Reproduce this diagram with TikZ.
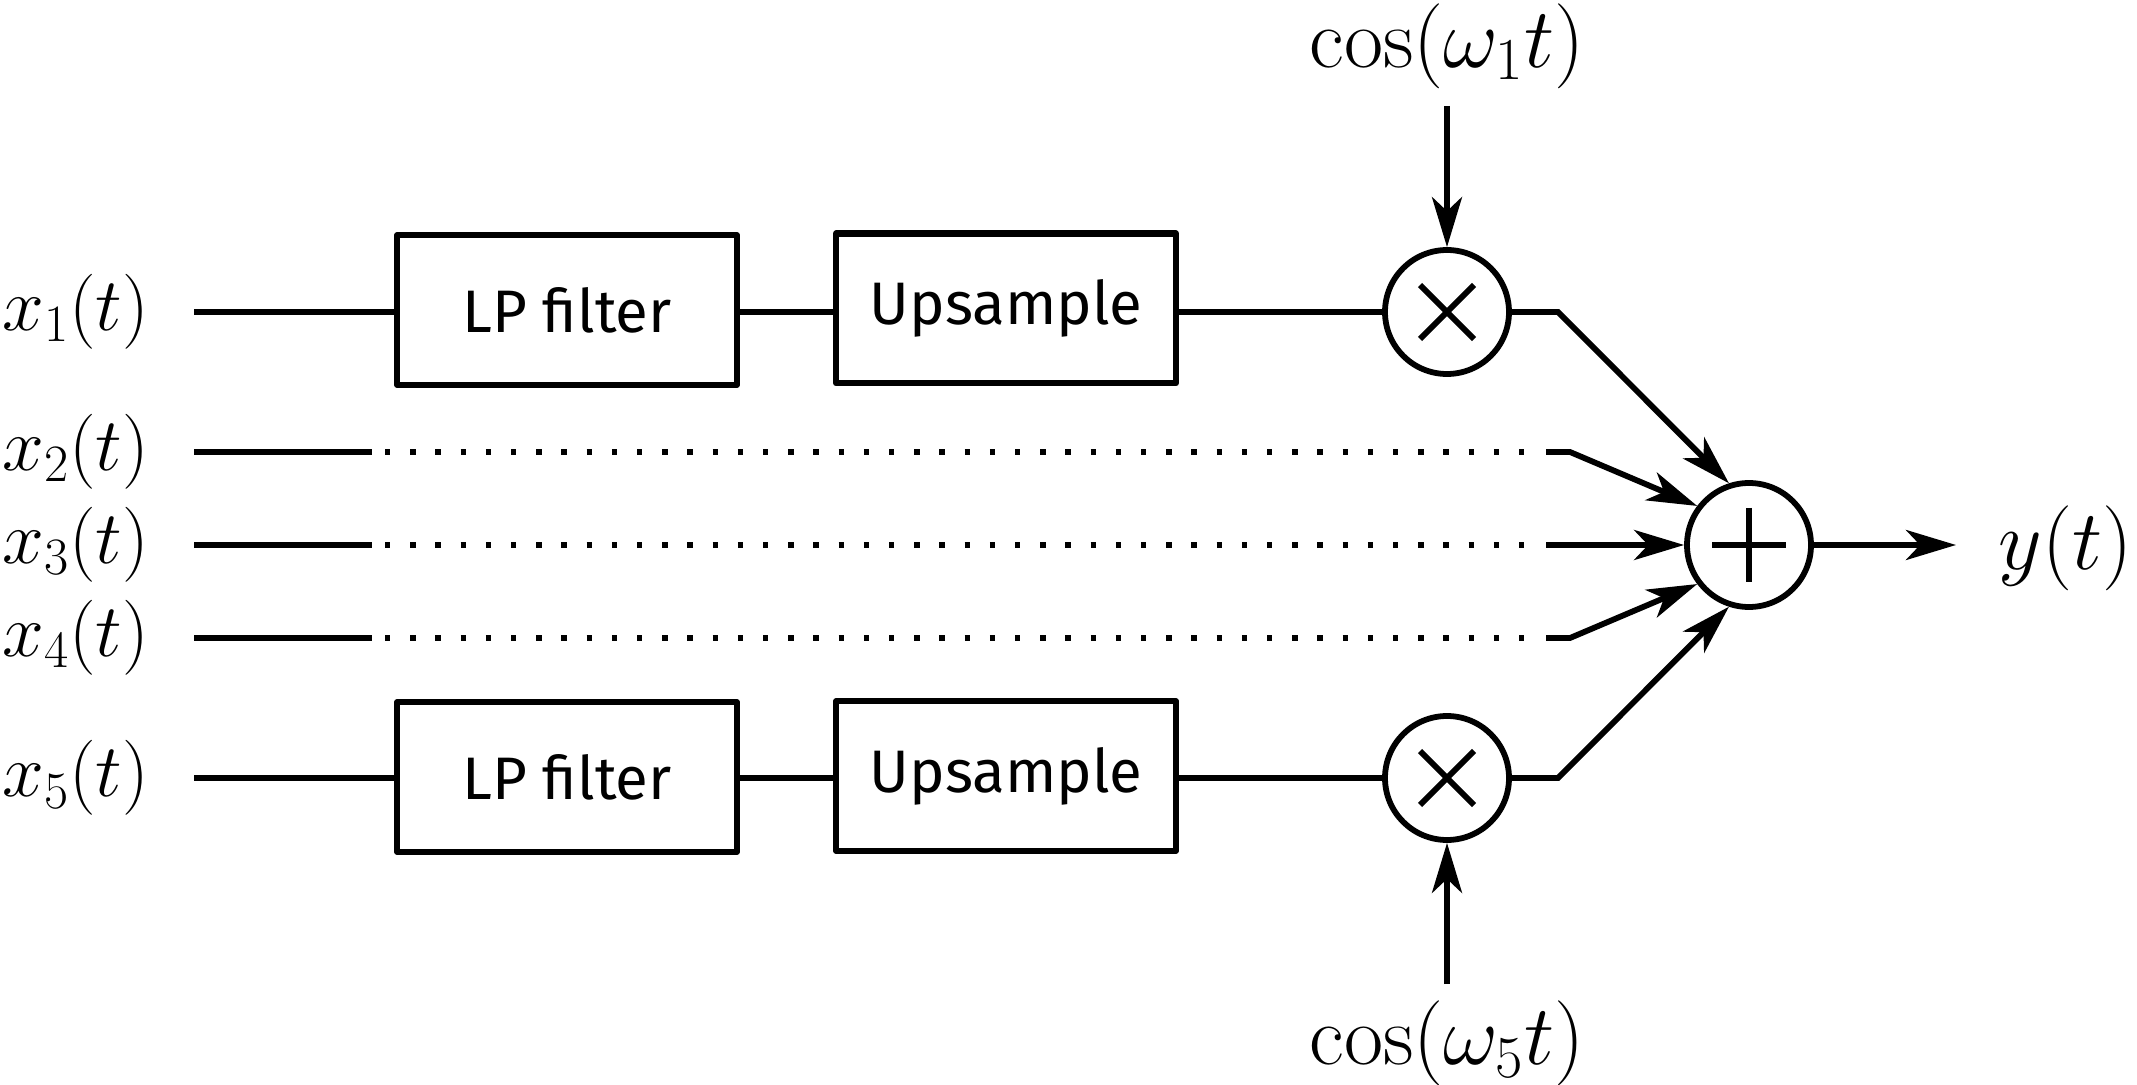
\documentclass[tikz,border=0pt]{standalone}
\usepackage{fix-cm}
\usepackage{fontspec}
\newfontfamily\boxfont{Fira Sans}
\usetikzlibrary{arrows.meta}
\begin{document}
\begin{tikzpicture}[x=0.5pt,y=-0.5pt,
  wire/.style={line width=2.9pt},
  blk/.style={draw, line width=3.2pt, line join=round, minimum width=169.8pt, minimum height=74.8pt, inner sep=0pt,
    font=\boxfont\fontsize{30}{36}\selectfont},
  op/.style={draw, circle, line width=2.9pt, minimum size=62pt, inner sep=0pt},
  lbl/.style={inner sep=0pt, font=\fontsize{37.5}{45}\selectfont},
  biglbl/.style={inner sep=0pt, font=\fontsize{42.5}{51}\selectfont},
  arr/.style={wire, -{Stealth[length=25pt,width=15pt,inset=7pt]}},
  dots/.style={line width=2.7pt, dash pattern=on 2.7pt off 9.9pt},
  sym/.style={line width=2.9pt},
]
\useasboundingbox (0,0) rectangle (2137,1085);

% blocks
\node[blk] (lp1) at (567,310) {LP filter};
\node[blk] (up1) at (1006,308.5) {Upsample};
\node[op] (m1) at (1447,312) {};
\node[blk] (lp5) at (567,777) {LP filter};
\node[blk] (up5) at (1006,776) {Upsample};
\node[op] (m5) at (1447,778) {};
\node[op] (sum) at (1749,545) {};

% symbols inside operators
\draw[sym] ([shift={(-27,-27)}]m1.center) -- ([shift={(27,27)}]m1.center);
\draw[sym] ([shift={(-27,27)}]m1.center) -- ([shift={(27,-27)}]m1.center);
\draw[sym] ([shift={(-27,-27)}]m5.center) -- ([shift={(27,27)}]m5.center);
\draw[sym] ([shift={(-27,27)}]m5.center) -- ([shift={(27,-27)}]m5.center);
\draw[sym] ([shift={(-37,0)}]sum.center) -- ([shift={(37,0)}]sum.center);
\draw[sym] ([shift={(0,-37)}]sum.center) -- ([shift={(0,37)}]sum.center);

% labels
\node[lbl, anchor=west] (x1) at (2,312) {$x_1(t)$};
\node[lbl, anchor=west] (x2) at (2,452) {$x_2(t)$};
\node[lbl, anchor=west] (x3) at (2,545) {$x_3(t)$};
\node[lbl, anchor=west] (x4) at (2,638) {$x_4(t)$};
\node[lbl, anchor=west] (x5) at (2,778) {$x_5(t)$};
\node[biglbl, anchor=west] (y) at (1998,548) {$y(t)$};
\node[biglbl] (c1) at (1447,46) {$\cos(\omega_1 t)$};
\node[biglbl] (c5) at (1447,1043) {$\cos(\omega_5 t)$};

% coordinates
\coordinate (i1) at (194,312);
\coordinate (i5) at (194,778);
\coordinate (s1) at (1558,312);
\coordinate (s5) at (1558,778);
\coordinate (ct1) at (1447,106);
\coordinate (ct5) at (1447,984);
\coordinate (yo) at (1956,545);
\foreach \k/\yy in {2/452,3/545,4/638}{
  \coordinate (i\k) at (194,\yy);
  \coordinate (a\k) at (372,\yy);
  \coordinate (b\k) at (385,\yy);
  \coordinate (c\k) at (1535,\yy);
  \coordinate (e\k) at (1546,\yy);
  \coordinate (f\k) at (1570,\yy);
}

% branch 1
\draw[wire] (i1) -- (lp1.west |- i1);
\draw[wire] (lp1.east |- i1) -- (up1.west |- i1);
\draw[wire] (up1.east |- i1) -- (m1.west);
\draw[arr] (m1.east) -- (s1) -- (sum.108);
\draw[arr] (ct1) -- (m1.north);

% branch 5
\draw[wire] (i5) -- (lp5.west |- i5);
\draw[wire] (lp5.east |- i5) -- (up5.west |- i5);
\draw[wire] (up5.east |- i5) -- (m5.west);
\draw[arr] (m5.east) -- (s5) -- (sum.252);
\draw[arr] (ct5) -- (m5.south);

% branches 2-4
\foreach \k in {2,3,4}{
  \draw[wire] (i\k) -- (a\k);
  \draw[dots] (b\k) -- (c\k);
}
\draw[arr] (e2) -- (f2) -- (sum.143);
\draw[arr] (e3) -- (sum.west);
\draw[arr] (e4) -- (f4) -- (sum.217);

% output
\draw[arr] (sum.east) -- (yo);
\end{tikzpicture}
\end{document}
